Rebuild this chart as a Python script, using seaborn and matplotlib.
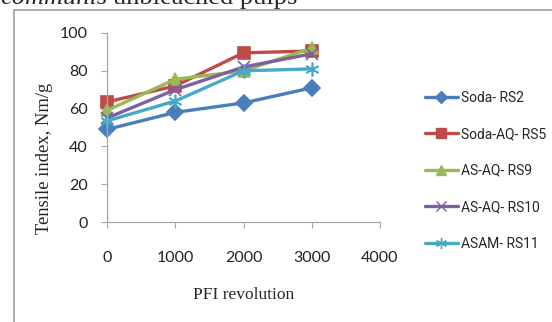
import pandas as pd
import seaborn as sns
import matplotlib.pyplot as plt
from matplotlib.lines import Line2D

# data
revolutions = [0, 1000, 2000, 3000]
soda_rs2 = [49, 58, 63, 71]
soda_aq_rs5 = [63.5, 72, 89.5, 90.5]
as_aq_rs9 = [59, 75.5, 80, 92]
as_aq_rs10 = [55, 70, 82, 89]
asam_rs11 = [53.5, 64, 80, 81]

series = {
    'Soda- RS2': soda_rs2,
    'Soda-AQ- RS5': soda_aq_rs5,
    'AS-AQ- RS9': as_aq_rs9,
    'AS-AQ- RS10': as_aq_rs10,
    'ASAM- RS11': asam_rs11,
}
names = list(series.keys())
rows = []
for name, vals in series.items():
    for x, v in zip(revolutions, vals):
        rows.append({'PFI': x, 'Tensile': v, 'Pulp': name})
df = pd.DataFrame(rows)

colors = ['#4A7EBB', '#BE4B48', '#98B954', '#7D60A0', '#46AAC5']
markers = ['D', 's', '^', 'x', (6, 2, 0)]
sizes = [8, 9, 9, 9, 10]

sns.set_style('white')
plt.rcParams['font.family'] = ['Lato', 'DejaVu Sans']

fig = plt.figure(figsize=(5.52, 3.22), dpi=100)
ax = fig.add_axes([107 / 552, 1 - 222 / 322, (380 - 107) / 552, (222 - 33) / 322])

# one call per series (filled and line markers can't share a style mapping)
for name, c, m, ms in zip(names, colors, markers, sizes):
    sns.lineplot(data=df[df['Pulp'] == name], x='PFI', y='Tensile', color=c,
                 marker=m, markersize=ms, markeredgecolor=c, markeredgewidth=1.2,
                 linewidth=2.4, ax=ax, legend=False, clip_on=False)

ax.set_xlim(0, 4000)
ax.set_ylim(0, 100)
ax.set_xticks([0, 1000, 2000, 3000, 4000])
ax.set_yticks([0, 20, 40, 60, 80, 100])
for s in ['top', 'right']:
    ax.spines[s].set_visible(False)
for s in ['left', 'bottom']:
    ax.spines[s].set_color('#A6A6A6')
    ax.spines[s].set_linewidth(0.9)
ax.tick_params(axis='both', direction='out', length=4, color='#A6A6A6',
               labelsize=11.5, labelcolor='#222222', bottom=True, left=True)
ax.tick_params(axis='x', pad=17)
ax.tick_params(axis='y', pad=10)

ax.set_xlabel('PFI revolution', family='Liberation Serif', fontsize=12.5, labelpad=16)
ax.set_ylabel('Tensile index, Nm/g', family='Liberation Serif', fontsize=13.4)
ax.yaxis.set_label_coords(-54 / 273, 0.339)

# legend to the right
handles = [Line2D([0], [0], color=c, marker=m, markersize=ms - 2, markeredgecolor=c,
                  linewidth=2.4, markeredgewidth=1.0)
           for c, m, ms in zip(colors, markers, sizes)]
fig.legend(handles, names, loc='upper left', bbox_to_anchor=(419 / 552, 1 - 85 / 322),
           frameon=False, prop={'family': 'Roboto', 'size': 10},
           handlelength=2.4, handletextpad=0.2, labelspacing=1.62, borderaxespad=0)

# outer frame and cut caption
fig.add_artist(Line2D([14 / 552, 14 / 552], [0, 1 - 10 / 322], color='#A0A0A0', lw=1.2))
fig.add_artist(Line2D([14 / 552, 1], [1 - 10 / 322, 1 - 10 / 322], color='#A0A0A0', lw=1.2))
cap = fig.text(0.0, 1 - 4 / 322, 'communis', family='Liberation Serif', style='italic',
               fontsize=19, va='baseline', ha='left')
fig.canvas.draw()
bb = cap.get_window_extent()
fig.text(bb.x1 / fig.bbox.width + 0.01, 1 - 4 / 322, 'unbleached pulps',
         family='Liberation Serif', fontsize=19, va='baseline', ha='left')

fig.savefig('out.png', dpi=100)
